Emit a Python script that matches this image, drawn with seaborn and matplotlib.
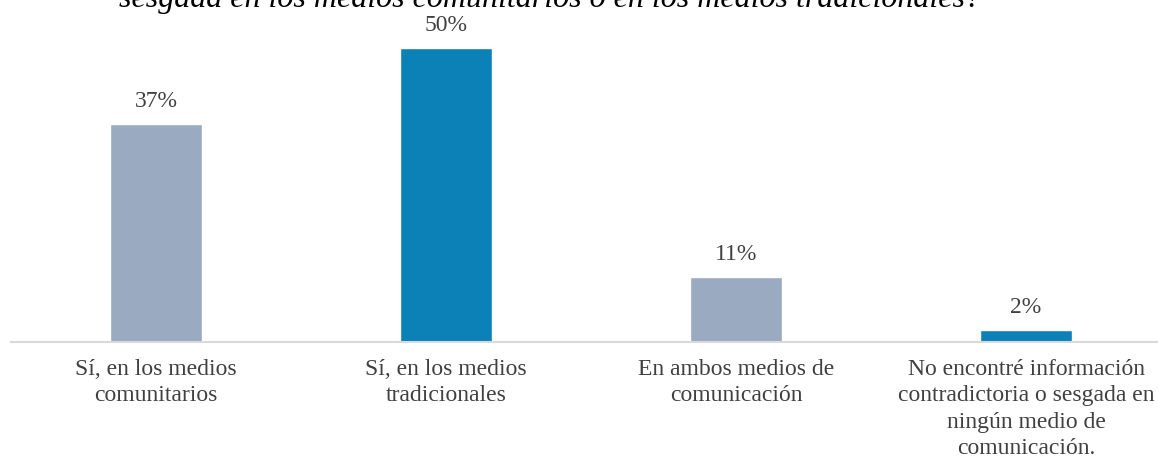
import matplotlib
matplotlib.use("Agg")
import matplotlib.pyplot as plt
import seaborn as sns
import pandas as pd

categories = ["Sí, en los medios\ncomunitarios",
              "Sí, en los medios\ntradicionales",
              "En ambos medios de\ncomunicación",
              "No encontré información\ncontradictoria o sesgada en\nningún medio de\ncomunicación."]
values = [37, 50, 11, 2]
labels = ["37%", "50%", "11%", "2%"]
colors = ["#9AAAC0", "#0B81B8", "#9AAAC0", "#0B81B8"]
title = "sesgada en los medios comunitarios o en los medios tradicionales?"

sns.set_style("white")
plt.rcParams['font.family'] = ['Liberation Serif', 'DejaVu Serif']

df = pd.DataFrame({"cat": categories, "val": values})

fig = plt.figure(figsize=(11.58, 4.62), dpi=100)
ax = fig.add_axes([11/1158, 1 - 342/462, 1160/1158, 294/462 * 55/50])
sns.barplot(data=df, x="cat", y="val", hue="cat", palette=colors, legend=False,
            width=0.314, ax=ax, saturation=1)
ax.set_ylim(0, 55)
ax.set_xlim(-0.5, 3.5)
for i, (v, l) in enumerate(zip(values, labels)):
    ax.annotate(l, (i, v), xytext=(0, 9), textcoords="offset points",
                ha="center", va="bottom", fontsize=17, color="#404040")
ax.set_xlabel("")
ax.set_ylabel("")
ax.set_yticks([])
for s in ["top", "right", "left"]:
    ax.spines[s].set_visible(False)
ax.spines["bottom"].set_color("#D9D9D9")
ax.spines["bottom"].set_linewidth(1.5)
ax.tick_params(axis="x", length=0, pad=12, labelsize=17, labelcolor="#404040")
for t in ax.get_xticklabels():
    t.set_linespacing(1.35)

fig.text(550/1158, 1 - 7/462, title, ha="center", va="baseline",
         fontsize=23, style="italic", color="#000000")

fig.savefig("out.png", dpi=100)
